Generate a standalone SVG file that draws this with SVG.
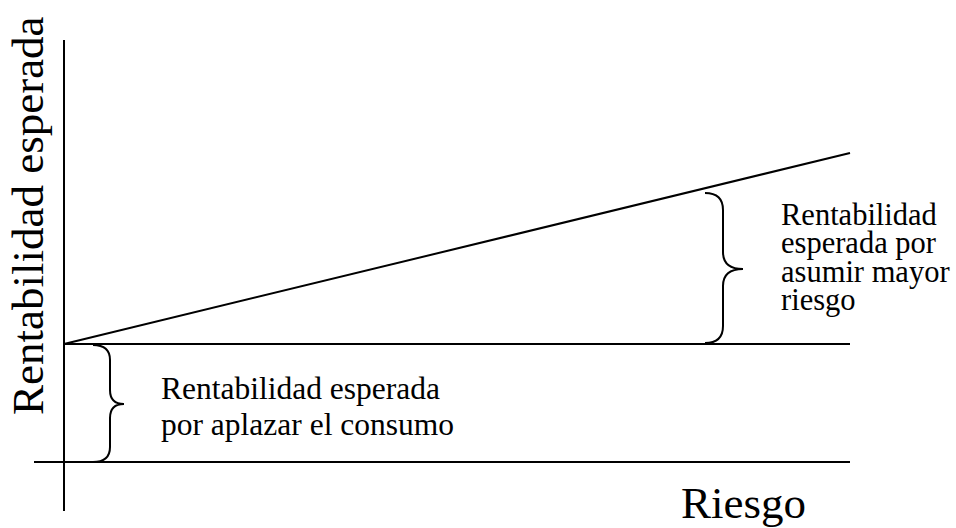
<svg xmlns="http://www.w3.org/2000/svg" width="956" height="528" viewBox="0 0 956 528">
<style>
.ln{stroke:#000;stroke-width:2;fill:none}
text{font-family:'Liberation Serif','Times New Roman',Times,serif}
</style>
<rect width="956" height="528" fill="#fff"/>
<g id="connectors">
<line class="ln" x1="64" y1="40" x2="64" y2="511"/>
<line class="ln" x1="34" y1="462" x2="850" y2="462"/>
<line class="ln" x1="64" y1="344" x2="850" y2="344"/>
<line class="ln" x1="64" y1="344" x2="850" y2="153"/>
<path id="brace-low" class="ln" d="M93,345 Q110,345 110,360 L110,390 Q110,404 124,404 Q110,404 110,418 L110,447 Q110,462 93,462"/>
<path id="brace-up" class="ln" d="M705,193 Q723,193 723,210 L723,252 Q723,269 743,269 Q723,269 723,286 L723,326 Q723,343 705,343"/>
</g>
<g id="y-axis-label"><text font-size="45" x="-415" y="43" transform="rotate(-90)">Rentabilidad esperada</text></g>
<g id="x-axis-label"><text font-size="45" x="681" y="518">Riesgo</text></g>
<g id="label-low"><text font-size="31.5" x="161" y="399">Rentabilidad esperada</text><text font-size="31.5" x="161" y="435">por aplazar el consumo</text></g>
<g id="label-up"><text font-size="30.5" x="781" y="225">Rentabilidad</text><text font-size="30.5" x="781" y="253">esperada por</text><text font-size="30.5" x="781" y="282">asumir mayor</text><text font-size="30.5" x="781" y="310">riesgo</text></g>
</svg>
